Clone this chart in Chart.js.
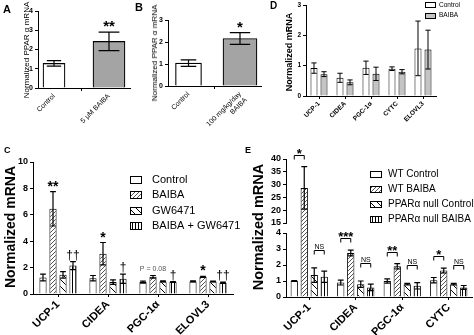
<!DOCTYPE html>
<html>
<head>
<meta charset="utf-8">
<script src="https://cdn.jsdelivr.net/npm/chart.js@4.4.1/dist/chart.umd.min.js"></script>
<style>
  body { margin: 0; background: #fff; }
  #fig { position: relative; width: 474px; height: 335px; overflow: hidden; font-family: "Liberation Sans", Arial, sans-serif; }
  #fig canvas { position: absolute; }
  .tag { position: absolute; font-weight: bold; line-height: 1; color: #000; }
  .ytitle { position: absolute; line-height: 1; white-space: nowrap; color: #000;
            transform: translate(-50%, -50%) rotate(-90deg); }
</style>
</head>
<body>
<div id="fig">
  <canvas id="chartA" width="155" height="135" style="left:0;top:0"></canvas>
  <canvas id="chartB" width="140" height="135" style="left:130px;top:0"></canvas>
  <canvas id="chartD" width="206" height="135" style="left:268px;top:0"></canvas>
  <canvas id="chartC" width="250" height="200" style="left:0;top:135px"></canvas>
  <canvas id="chartEhigh" width="234" height="200" style="left:240px;top:135px"></canvas>
  <canvas id="chartElow" width="234" height="200" style="left:240px;top:135px"></canvas>
  <div class="tag" style="left:3px;top:4px;font-size:11px">A</div>
  <div class="tag" style="left:135px;top:2px;font-size:11px">B</div>
  <div class="tag" style="left:270px;top:1px;font-size:10px">D</div>
  <div class="tag" style="left:4px;top:146px;font-size:9px">C</div>
  <div class="tag" style="left:245px;top:146px;font-size:9px">E</div>
  <div class="ytitle" style="left:27px;top:50px;font-size:8px">Normalized PPAR α mRNA</div>
  <div class="ytitle" style="left:155px;top:53px;font-size:8px">Normalized PPAR α mRNA</div>
  <div class="ytitle" style="left:289px;top:52px;font-size:9px;font-weight:bold">Normalized mRNA</div>
  <div class="ytitle" style="left:10px;top:227px;font-size:14px;font-weight:bold">Normalized mRNA</div>
  <div class="ytitle" style="left:257.5px;top:226.5px;font-size:14.5px;font-weight:bold">Normalized mRNA</div>
</div>

<script>
// ---- A: PPARα mRNA, cells ----
const aGroups = ["Control", "5 μM BAIBA"];
const aMean = [1.28, 2.42];
const aSem = [0.14, 0.48];
const aMarks = ["", "**"];

// ---- B: PPARα mRNA, mice ----
const bGroups = ["Control", ["100 mg/kg/day", "BAIBA"]];
const bMean = [1.04, 2.16];
const bSem = [0.15, 0.27];
const bMarks = ["", "*"];

// ---- D: thermogenic genes ----
const dGenes = ["UCP-1", "CIDEA", "PGC-1α", "CYTC", "ELOVL3"];
const dSeries = ["Control", "BAIBA"];
const dControl = [0.92, 0.6, 0.93, 0.9, 1.57];
const dControlSem = [0.17, 0.15, 0.22, 0.06, 0.9];
const dBaiba = [0.72, 0.45, 0.73, 0.8, 1.53];
const dBaibaSem = [0.08, 0.08, 0.22, 0.07, 0.64];

// ---- C: GW6471 antagonist ----
const cGenes = ["UCP-1", "CIDEA", "PGC-1α", "ELOVL3"];
const cSeries = ["Control", "BAIBA", "GW6471", "BAIBA + GW6471"];
const cControl = [1.25, 1.2, 0.9, 0.95];
const cControlSem = [0.25, 0.2, 0.07, 0.04];
const cBaiba = [6.45, 3.05, 1.3, 1.3];
const cBaibaSem = [1.3, 0.85, 0.1, 0.04];
const cGw = [1.45, 0.9, 0.95, 0.95];
const cGwSem = [0.25, 0.17, 0.04, 0.03];
const cBoth = [2.15, 1.15, 0.9, 0.85];
const cBothSem = [0.3, 0.35, 0.03, 0.05];
const cBaibaMarks = ["**", "*", "P = 0.08", "*"];
const cBothMarks = ["††", "†", "†", "††"];

// ---- E: WT vs PPARα null ----
const eGenes = ["UCP-1", "CIDEA", "PGC-1α", "CYTC"];
const eSeries = ["WT Control", "WT BAIBA", "PPARα null Control", "PPARα null BAIBA"];
const eWtControl = [1.0, 0.9, 1.0, 1.05];
const eWtControlSem = [0.03, 0.15, 0.13, 0.17];
const eWtBaiba = [28.7, 2.75, 1.92, 1.65];
const eWtBaibaSem = [8.3, 0.18, 0.17, 0.15];
const eNullControl = [1.37, 0.8, 0.8, 0.8];
const eNullControlSem = [0.45, 0.2, 0.05, 0.05];
const eNullBaiba = [1.27, 0.6, 0.7, 0.6];
const eNullBaibaSem = [0.35, 0.2, 0.2, 0.12];
const eWtSig = ["*", "***", "**", "*"];
const eNullSig = ["NS", "NS", "NS", "NS"];
const eLowRange = [0, 4];
const eHighRange = [15, 40];

const FONT = '"Liberation Sans", Arial, sans-serif';
Chart.defaults.font.family = FONT;
Chart.defaults.color = "#000";
Chart.defaults.animation = false;
Chart.defaults.responsive = false;
Chart.defaults.plugins.legend.display = false;
Chart.defaults.plugins.tooltip.enabled = false;

// fill patterns
function tile(w, h, draw) {
  const c = document.createElement("canvas");
  c.width = w; c.height = h;
  const g = c.getContext("2d");
  g.fillStyle = "#fff";
  g.fillRect(0, 0, w, h);
  draw(g);
  return g.createPattern(c, "repeat");
}
const fineHatch = tile(4, 4, g => {
  g.strokeStyle = "#555"; g.lineWidth = 1;
  g.beginPath();
  g.moveTo(0, 4); g.lineTo(4, 0);
  g.moveTo(-1, 1); g.lineTo(1, -1);
  g.moveTo(3, 5); g.lineTo(5, 3);
  g.stroke();
});
const wideHatch = tile(7, 7, g => {
  g.strokeStyle = "#000"; g.lineWidth = 1;
  g.beginPath();
  g.moveTo(0, 0); g.lineTo(7, 7);
  g.moveTo(-1, 6); g.lineTo(1, 8);
  g.moveTo(6, -1); g.lineTo(8, 1);
  g.stroke();
});
const vLines = tile(3, 1, g => {
  g.fillStyle = "#000";
  g.fillRect(0, 0, 1, 1);
});

// mean ± SEM whiskers
const errorBars = {
  id: "errorBars",
  afterDatasetsDraw(chart, args, o) {
    const { ctx, chartArea } = chart;
    ctx.save();
    ctx.beginPath();
    ctx.rect(chartArea.left - 2, chartArea.top - 2, chartArea.right - chartArea.left + 4, chartArea.bottom - chartArea.top + 4);
    ctx.clip();
    ctx.strokeStyle = "#000";
    ctx.lineWidth = o.lineWidth || 1.2;
    chart.data.datasets.forEach((ds, di) => {
      if (!ds.sem) return;
      const meta = chart.getDatasetMeta(di);
      const ys = chart.scales[meta.yAxisID];
      meta.data.forEach((bar, i) => {
        const v = ds.data[i];
        if (v == null || !ds.sem[i]) return;
        const m = ds.mean[i], e = ds.sem[i];
        const lo = ys.getPixelForValue(m - e), hi = ys.getPixelForValue(m + e);
        const half = bar.width * (o.cap || 0.7) / 2;
        ctx.beginPath();
        ctx.moveTo(bar.x, lo); ctx.lineTo(bar.x, hi);
        ctx.moveTo(bar.x - half, hi); ctx.lineTo(bar.x + half, hi);
        ctx.moveTo(bar.x - half, lo); ctx.lineTo(bar.x + half, lo);
        ctx.stroke();
      });
    });
    ctx.restore();
  }
};

// numbers along the value axes
const yTickText = {
  id: "yTickText",
  afterDraw(chart, args, o) {
    const ctx = chart.ctx;
    Object.values(chart.scales).forEach(s => {
      if (s.isHorizontal() || !s.options.display) return;
      ctx.save();
      ctx.font = "bold " + (o.size || 9) + "px " + FONT;
      ctx.fillStyle = "#000";
      ctx.textAlign = "right";
      ctx.textBaseline = "middle";
      s.ticks.forEach(t => {
        const txt = t.label != null && t.label !== "" ? String(t.label) : String(t.value);
        ctx.fillText(txt, s.right - 5, s.getPixelForValue(t.value));
      });
      ctx.restore();
    });
  }
};

// significance symbols over single bars
const barMarks = {
  id: "barMarks",
  afterDatasetsDraw(chart, args, o) {
    const ctx = chart.ctx;
    chart.data.datasets.forEach((ds, di) => {
      if (!ds.marks) return;
      const meta = chart.getDatasetMeta(di);
      const ys = chart.scales[meta.yAxisID];
      meta.data.forEach((bar, i) => {
        const t = ds.marks[i];
        if (!t) return;
        const top = ys.getPixelForValue(ds.mean[i] + ds.sem[i]);
        ctx.save();
        ctx.textAlign = "center";
        ctx.textBaseline = "alphabetic";
        ctx.fillStyle = "#000";
        if (t.startsWith("P")) {
          ctx.font = o.note; ctx.fillStyle = "#555";
          ctx.fillText(t, bar.x, top - 5);
        } else if (t.includes("†")) {
          ctx.font = o.dagger;
          ctx.fillText(t, bar.x, top - 3);
        } else {
          ctx.font = o.star;
          ctx.fillText(t, bar.x, top - 1);
        }
        ctx.restore();
      });
    });
  }
};

// comparison brackets between two bars of a group
const brackets = {
  id: "brackets",
  afterDatasetsDraw(chart, args, o) {
    if (!o.pairs) return;
    const { ctx, chartArea } = chart;
    const sets = chart.data.datasets;
    o.pairs.forEach(p => {
      const ma = chart.getDatasetMeta(p.a), mb = chart.getDatasetMeta(p.b);
      const ys = chart.scales[ma.yAxisID];
      p.labels.forEach((txt, i) => {
        const top = Math.max(sets[p.a].mean[i] + sets[p.a].sem[i], sets[p.b].mean[i] + sets[p.b].sem[i]);
        const y = Math.round(ys.getPixelForValue(top) - p.lift) + 0.5;
        if (y < chartArea.top - 15 || y > chartArea.bottom) return;
        const x1 = ma.data[i].x, x2 = mb.data[i].x;
        ctx.save();
        ctx.strokeStyle = "#000";
        ctx.lineWidth = 1;
        ctx.beginPath();
        ctx.moveTo(x1, y + 4); ctx.lineTo(x1, y); ctx.lineTo(x2, y); ctx.lineTo(x2, y + 4);
        ctx.stroke();
        ctx.font = p.font;
        ctx.fillStyle = "#000";
        ctx.textAlign = "center";
        ctx.fillText(txt, (x1 + x2) / 2, y + p.shift);
        ctx.restore();
      });
    });
  }
};

// boxed legend drawn inside the panel
const boxLegend = {
  id: "boxLegend",
  afterDraw(chart, args, o) {
    if (o.x == null) return;
    const ctx = chart.ctx;
    chart.data.datasets.forEach((ds, i) => {
      const cy = o.y + i * o.step;
      const top = Math.round(cy - o.h / 2);
      ctx.save();
      ctx.fillStyle = ds.backgroundColor;
      ctx.fillRect(o.x, top, o.w, o.h);
      ctx.strokeStyle = "#000";
      ctx.lineWidth = 1;
      ctx.strokeRect(o.x + 0.5, top + 0.5, o.w - 1, o.h - 1);
      ctx.font = o.font;
      ctx.fillStyle = "#000";
      ctx.textBaseline = "middle";
      ctx.fillText(ds.label, o.x + o.w + o.gap, cy);
      ctx.restore();
    });
  }
};

Chart.register(errorBars, yTickText, barMarks, brackets, boxLegend);

function yAxis(o) {
  return {
    min: o.min, max: o.max,
    afterFit: s => { s.width = o.width; s.paddingTop = 0; s.paddingBottom = 0; },
    border: { color: "#000", width: 1 },
    grid: { drawOnChartArea: false, color: "#000", tickLength: 3 },
    ticks: { display: false, stepSize: o.step },
    title: { display: false }
  };
}

function catX(o) {
  return {
    type: "category",
    offset: true,
    afterFit: s => { s.height = o.height; s.paddingLeft = 0; s.paddingRight = 0; },
    border: { color: "#000", width: 1 },
    grid: { drawOnChartArea: false, offset: false, color: "#000", tickLength: 3 },
    ticks: { minRotation: 45, maxRotation: 45, autoSkip: false, padding: 1, font: { size: o.font, weight: "bold" } }
  };
}

function linX(labels, o) {
  return {
    type: "linear",
    min: o.min, max: o.max,
    offset: false,
    afterBuildTicks: s => { s.ticks = labels.map((_, i) => ({ value: i })); },
    afterFit: s => { s.height = o.height; s.paddingLeft = 0; s.paddingRight = 0; },
    border: { color: "#000", width: 1 },
    grid: { drawOnChartArea: false, color: "#000", tickLength: 3 },
    ticks: { minRotation: 45, maxRotation: 45, autoSkip: false, padding: 1, font: { size: 7 },
             callback: v => labels[v] }
  };
}

function barSet(label, mean, sem, fill, extra) {
  return Object.assign({
    label, data: mean.slice(), mean, sem,
    backgroundColor: fill, borderColor: "#000", borderWidth: 1
  }, extra || {});
}

// A
const aFills = ["#fff", "#a4a4a4"];
const aWidths = [22, 32];
new Chart(document.getElementById("chartA"), {
  type: "bar",
  data: {
    datasets: aGroups.map((g, i) => ({
      label: String(g),
      data: [{ x: i, y: aMean[i] }],
      mean: [aMean[i]], sem: [aSem[i]], marks: [aMarks[i]],
      backgroundColor: aFills[i], borderColor: "#000", borderWidth: 1.2,
      barThickness: aWidths[i], grouped: false
    }))
  },
  options: {
    layout: { padding: { left: 0, top: 11, right: 25, bottom: 0 } },
    scales: {
      x: linX(aGroups, { min: -0.291, max: 1.382, height: 47 }),
      y: yAxis({ min: 0, max: 4, step: 1, width: 38 })
    },
    plugins: { errorBars: { cap: 0.65 }, yTickText: { size: 7 }, barMarks: { star: "bold 15px " + FONT } }
  }
});

// B
const bFills = ["#fff", "#a4a4a4"];
const bWidths = [26, 34];
new Chart(document.getElementById("chartB"), {
  type: "bar",
  data: {
    datasets: bGroups.map((g, i) => ({
      label: String(g),
      data: [{ x: i, y: bMean[i] }],
      mean: [bMean[i]], sem: [bSem[i]], marks: [bMarks[i]],
      backgroundColor: bFills[i], borderColor: "#000", borderWidth: 1.2,
      barThickness: bWidths[i], grouped: false
    }))
  },
  options: {
    layout: { padding: { left: 0, top: 20, right: 9, bottom: 0 } },
    scales: {
      x: linX(bGroups, { min: -0.398, max: 1.408, height: 49 }),
      y: yAxis({ min: 0, max: 3, step: 1, width: 38 })
    },
    plugins: { errorBars: { cap: 0.6 }, yTickText: { size: 7 }, barMarks: { star: "bold 15px " + FONT } }
  }
});

// D
new Chart(document.getElementById("chartD"), {
  type: "bar",
  data: {
    labels: dGenes,
    datasets: [
      barSet(dSeries[0], dControl, dControlSem, "#fff"),
      barSet(dSeries[1], dBaiba, dBaibaSem, "#c4c4c4")
    ]
  },
  options: {
    datasets: { bar: { categoryPercentage: 0.77, barPercentage: 0.7 } },
    layout: { padding: { left: 0, top: 5, right: 38, bottom: 0 } },
    scales: {
      x: catX({ height: 39, font: 6.5 }),
      y: yAxis({ min: 0, max: 3, step: 1, width: 38 })
    },
    plugins: {
      errorBars: { cap: 0.75, lineWidth: 1 },
      yTickText: { size: 6.5 },
      boxLegend: { x: 157, y: 5, step: 10.5, w: 11, h: 6, gap: 3, font: "6.5px " + FONT }
    }
  }
});

// C
new Chart(document.getElementById("chartC"), {
  type: "bar",
  data: {
    labels: cGenes,
    datasets: [
      barSet(cSeries[0], cControl, cControlSem, "#fff"),
      barSet(cSeries[1], cBaiba, cBaibaSem, fineHatch, { marks: cBaibaMarks }),
      barSet(cSeries[2], cGw, cGwSem, wideHatch),
      barSet(cSeries[3], cBoth, cBothSem, vLines, { marks: cBothMarks })
    ]
  },
  options: {
    datasets: { bar: { categoryPercentage: 0.8, barPercentage: 0.72 } },
    layout: { padding: { left: 0, top: 27, right: 17, bottom: 0 } },
    scales: {
      x: catX({ height: 41, font: 11 }),
      y: yAxis({ min: 0, max: 10, step: 2, width: 33 })
    },
    plugins: {
      errorBars: { cap: 0.8 },
      yTickText: { size: 9 },
      barMarks: { star: "bold 14px " + FONT, dagger: "12px " + FONT, note: "7px " + FONT },
      boxLegend: { x: 130, y: 44.5, step: 15.5, w: 12, h: 8, gap: 10, font: "11px " + FONT }
    }
  }
});

// E, upper part of the broken axis
const keepHigh = arr => arr.map(v => (v >= eHighRange[0] ? v : null));
const eFills = ["#fff", fineHatch, wideHatch, vLines];
new Chart(document.getElementById("chartEhigh"), {
  type: "bar",
  data: {
    labels: eGenes,
    datasets: [
      barSet(eSeries[0], eWtControl, eWtControlSem, eFills[0], { data: keepHigh(eWtControl) }),
      barSet(eSeries[1], eWtBaiba, eWtBaibaSem, eFills[1], { data: keepHigh(eWtBaiba) }),
      barSet(eSeries[2], eNullControl, eNullControlSem, eFills[2], { data: keepHigh(eNullControl) }),
      barSet(eSeries[3], eNullBaiba, eNullBaibaSem, eFills[3], { data: keepHigh(eNullBaiba) })
    ]
  },
  options: {
    datasets: { bar: { categoryPercentage: 0.86, barPercentage: 0.73 } },
    layout: { padding: { left: 0, top: 24, right: 2, bottom: 112 } },
    scales: {
      x: { type: "category", offset: true, display: false },
      y: yAxis({ min: eHighRange[0], max: eHighRange[1], step: 5, width: 46 })
    },
    plugins: {
      errorBars: { cap: 0.8 },
      yTickText: { size: 9 },
      brackets: { pairs: [{ a: 0, b: 1, labels: eWtSig, lift: 12, font: "bold 13px " + FONT, shift: 2 }] }
    }
  }
});

// E, lower part (0–4)
new Chart(document.getElementById("chartElow"), {
  type: "bar",
  data: {
    labels: eGenes,
    datasets: [
      barSet(eSeries[0], eWtControl, eWtControlSem, eFills[0]),
      barSet(eSeries[1], eWtBaiba, eWtBaibaSem, eFills[1], { clip: { left: 2, top: 10, right: 2, bottom: 2 } }),
      barSet(eSeries[2], eNullControl, eNullControlSem, eFills[2]),
      barSet(eSeries[3], eNullBaiba, eNullBaibaSem, eFills[3])
    ]
  },
  options: {
    datasets: { bar: { categoryPercentage: 0.86, barPercentage: 0.73 } },
    layout: { padding: { left: 0, top: 98, right: 2, bottom: 0 } },
    scales: {
      x: catX({ height: 38, font: 11 }),
      y: yAxis({ min: eLowRange[0], max: eLowRange[1], step: 1, width: 46 })
    },
    plugins: {
      errorBars: { cap: 0.8 },
      yTickText: { size: 9 },
      brackets: { pairs: [
        { a: 0, b: 1, labels: eWtSig, lift: 12, font: "bold 13px " + FONT, shift: 2 },
        { a: 2, b: 3, labels: eNullSig, lift: 18, font: "7px " + FONT, shift: -2 }
      ] },
      boxLegend: { x: 130, y: 39, step: 15.2, w: 12, h: 7, gap: 6, font: "10px " + FONT }
    }
  }
});
</script>
</body>
</html>
